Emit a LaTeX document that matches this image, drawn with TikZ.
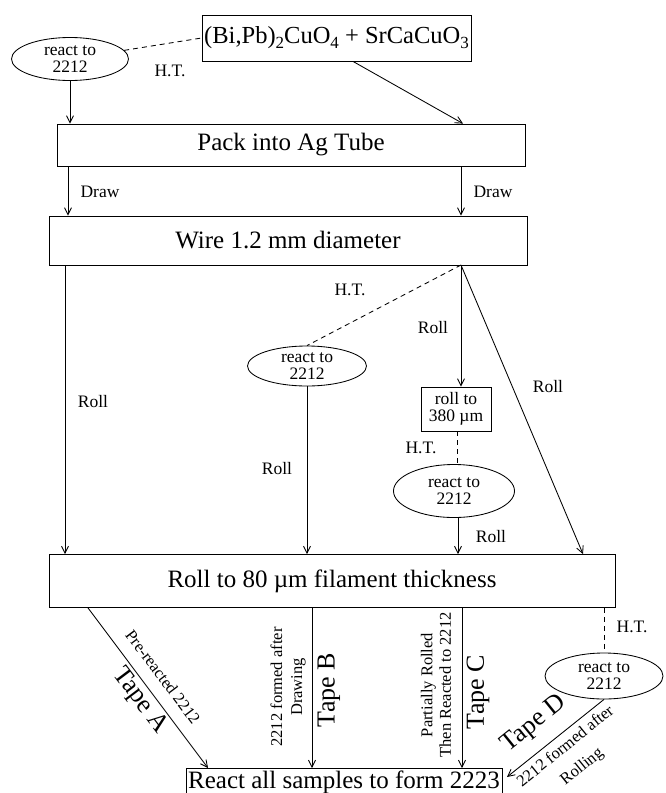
\documentclass[tikz,border=0pt]{standalone}
\usepackage{fontspec}
\setmainfont{Liberation Serif}
\usetikzlibrary{arrows.meta,shapes.geometric}
\newcommand\lowsub[1]{\raisebox{-0.45ex}{\fontsize{17}{17}\selectfont #1}}
\begin{document}
\begin{tikzpicture}[x=1pt,y=-1pt,
  line width=0.85pt,
  big/.style={font=\fontsize{25}{27}\selectfont},
  sm/.style={font=\fontsize{17.5}{16.5}\selectfont},
  tiny/.style={font=\fontsize{16.5}{18.5}\selectfont, align=center},
  tape/.style={font=\fontsize{26}{28}\selectfont},
  box/.style={draw, rectangle, inner sep=0pt, big},
  oval/.style={draw, ellipse, inner sep=0pt, sm, align=center},
  arr/.style={-{Straight Barb[length=7pt,width=7pt]}},
  ht/.style={dashed, dash pattern=on 5pt off 4pt},
  lab/.style={inner sep=0pt, sm}]
\useasboundingbox (0,0) rectangle (666,793);

% boxes
\node[box, minimum width=269, minimum height=46, font=\fontsize{24.5}{26}\selectfont] (top) at (336.5,38)
  {(Bi,Pb)\lowsub{2}CuO\lowsub{4} + SrCaCuO\lowsub{3}};
\node[box, minimum width=468, minimum height=42] (pack) at (291,145) {Pack into Ag Tube};
\node[box, minimum width=478, minimum height=49] (wire) at (288,240.5) {Wire 1.2 mm diameter};
\node[box, minimum width=566, minimum height=53] (roll) at (332,581) {Roll to 80 µm filament thickness};
\node[box, minimum width=316, minimum height=28, anchor=north] (react) at (344,768) {React all samples to form 2223};
\node[draw, rectangle, inner sep=0pt, minimum width=70, minimum height=44, sm, align=center] (r380) at (456,409) {roll to\\380 µm};

% ellipses
\node[oval, minimum width=117, minimum height=43] (e1) at (70,59) {react to\\2212};
\node[oval, minimum width=119, minimum height=40] (e2) at (307,366) {react to\\2212};
\node[oval, minimum width=121, minimum height=53] (e3) at (454,491) {react to\\2212};
\node[oval, minimum width=118, minimum height=46] (e4) at (604,676) {react to\\2212};

\coordinate (w) at (461,265);
\coordinate (endD) at (507,777);

% top part
\draw[ht] (e1) -- (top.west);
\node[lab] (ht1) at (170,71) {H.T.};
\draw[arr] (e1.south) -- (e1.south |- pack.north);
\draw[arr] (top.south -| 353,0) -- (pack.north -| 463,0);
\draw[arr] (pack.south -| 68,0) -- (wire.north -| 68,0);
\node[lab] (d1) at (100,192) {Draw};
\draw[arr] (pack.south -| 461,0) -- (wire.north -| 461,0);
\node[lab] (d2) at (493,192) {Draw};

% middle part
\draw[arr] (wire.south -| 65,0) -- (roll.north -| 65,0);
\node[lab] (r1) at (93,402) {Roll};
\draw[ht] (w) -- (e2.north);
\node[lab] (ht2) at (350,290) {H.T.};
\draw[arr] (e2.south) -- (roll.north -| e2.south);
\node[lab] (r2) at (277,469) {Roll};
\draw[arr] (w) -- (w |- r380.north);
\node[lab] (r3) at (433,328) {Roll};
\draw[ht] (r380.south -| 457,0) -- (e3.north -| 457,0);
\node[lab] (ht3) at (421,448) {H.T.};
\draw[arr] (e3.south -| 458,0) -- (roll.north -| 458,0);
\node[lab] (r4) at (491,537) {Roll};
\draw[arr] (w) -- (roll.north -| 583,0);
\node[lab] (r5) at (548,387) {Roll};

% bottom part
\draw[arr] (roll.south -| 88,0) -- (react.north -| 208,0);
\node[tiny, rotate=-53] (pa) at (163,677) {Pre-reacted 2212};
\node[tape, rotate=-53] (ta) at (140,701) {Tape A};

\draw[arr] (roll.south -| 312,0) -- (react.north -| 312,0);
\node[tiny, rotate=90, font=\fontsize{16.5}{20}\selectfont] (pb) at (288,687) {2212 formed after\\Drawing};
\node[tape, rotate=90] (tb) at (329,690) {Tape B};

\draw[arr] (roll.south -| 462,0) -- (react.north -| 462,0);
\node[tiny, rotate=90] (pc) at (436,685) {Partially Rolled\\Then Reacted to 2212};
\node[tape, rotate=90] (tc) at (478,692) {Tape C};

\draw[ht] (roll.south -| e4.north) -- (e4.north);
\node[lab] (ht4) at (632,627) {H.T.};
\draw[arr] (e4.south) -- (endD);
\node[tape, rotate=39] (td) at (534,724) {Tape D};
\node[tiny, rotate=39, font=\fontsize{16.5}{26}\selectfont] (pd) at (574,757) {2212 formed after\\Rolling};
\end{tikzpicture}
\end{document}
